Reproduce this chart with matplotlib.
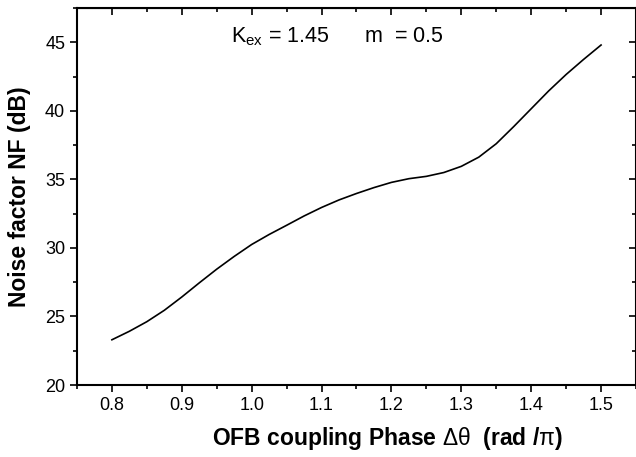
import matplotlib
matplotlib.use("Agg")
import matplotlib.pyplot as plt
from matplotlib.ticker import MultipleLocator

plt.rcParams['font.family'] = ['Liberation Sans', 'DejaVu Sans']
plt.rcParams['mathtext.fontset'] = 'custom'
plt.rcParams['mathtext.rm'] = 'Liberation Sans'
plt.rcParams['mathtext.it'] = 'Liberation Sans:italic'
plt.rcParams['mathtext.bf'] = 'Liberation Sans:bold'

# values
phase = [0.800, 0.825, 0.850, 0.875, 0.900, 0.925, 0.950, 0.975, 1.000, 1.025,
         1.050, 1.075, 1.100, 1.125, 1.150, 1.175, 1.200, 1.225, 1.250, 1.275,
         1.300, 1.325, 1.350, 1.375, 1.400, 1.425, 1.450, 1.475, 1.500]
nf = [23.3, 23.92, 24.62, 25.45, 26.42, 27.45, 28.45, 29.38, 30.25, 30.98,
      31.65, 32.33, 32.95, 33.5, 33.97, 34.4, 34.78, 35.05, 35.22, 35.5,
      35.95, 36.62, 37.6, 38.85, 40.15, 41.45, 42.65, 43.75, 44.8]

fig = plt.figure(figsize=(6.36, 4.57), dpi=100)
ax = fig.add_axes([0.121, 0.1575, 0.879, 0.825])

ax.plot(phase, nf, color='black', linewidth=1.2)

ax.set_xlim(0.75, 1.55)
ax.set_ylim(20, 47.5)
ax.xaxis.set_major_locator(MultipleLocator(0.1))
ax.xaxis.set_minor_locator(MultipleLocator(0.05))
ax.yaxis.set_major_locator(MultipleLocator(5))
ax.yaxis.set_minor_locator(MultipleLocator(2.5))
ax.xaxis.set_major_formatter(plt.FormatStrFormatter('%.1f'))

for s in ax.spines.values():
    s.set_linewidth(1.5)
ax.tick_params(which='both', direction='out', labelsize=13, width=1.2)
ax.tick_params(which='major', length=5)
ax.tick_params(which='minor', length=3)

# top and right ticks point inward, no labels
top = ax.secondary_xaxis('top')
top.xaxis.set_major_locator(MultipleLocator(0.1))
top.xaxis.set_minor_locator(MultipleLocator(0.05))
top.tick_params(which='both', direction='in', labeltop=False, width=1.2)
top.tick_params(which='major', length=5)
top.tick_params(which='minor', length=3)
right = ax.secondary_yaxis('right')
right.yaxis.set_major_locator(MultipleLocator(5))
right.yaxis.set_minor_locator(MultipleLocator(2.5))
right.tick_params(which='both', direction='in', labelright=False, width=1.2)
right.tick_params(which='major', length=5)
right.tick_params(which='minor', length=3)

ax.set_xlabel(r'OFB coupling Phase $\mathrm{\Delta\theta}$  (rad $\mathbf{/}\mathrm{\pi}$)',
              fontsize=16.5, fontweight='bold')
ax.xaxis.set_label_coords(0.556, -0.105)
ax.set_ylabel('Noise factor NF (dB)', fontsize=16.5, fontweight='bold', labelpad=10)

ax.text(0.971, 45.0, r'K$_{\rm ex}$ = 1.45      m  = 0.5', fontsize=15.5)

fig.savefig('out.png', dpi=100)
